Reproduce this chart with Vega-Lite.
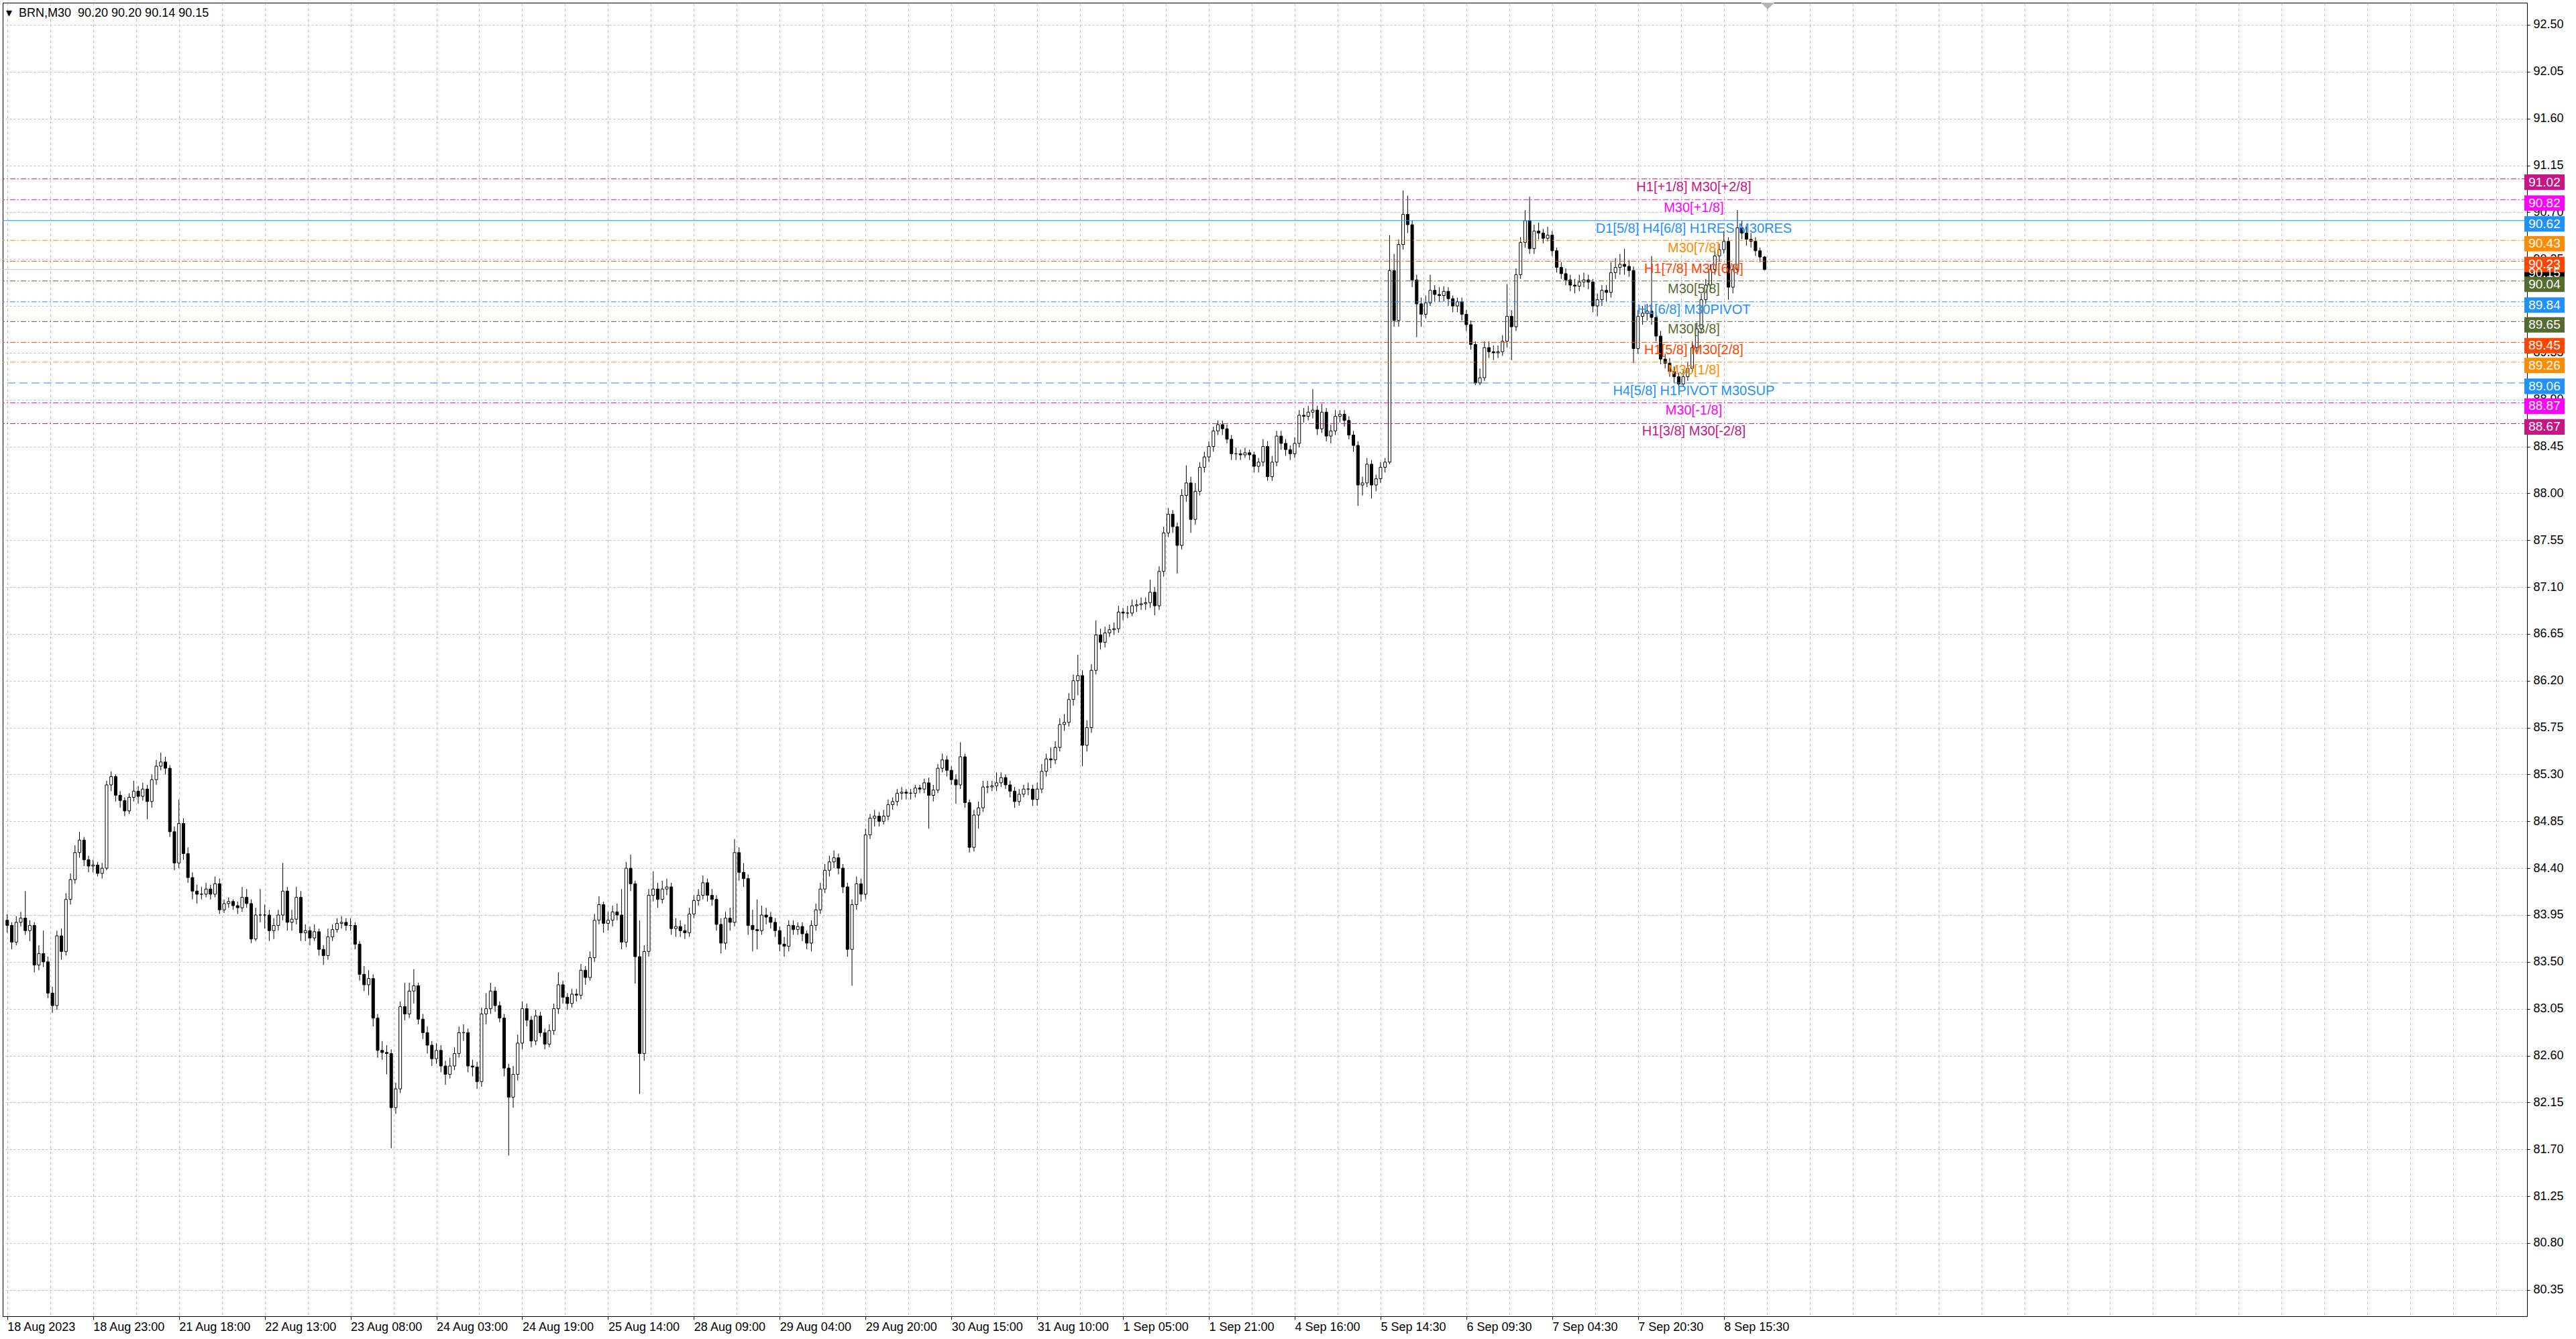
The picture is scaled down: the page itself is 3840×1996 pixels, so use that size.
{
  "$schema": "https://vega.github.io/schema/vega-lite/v6.json",
  "width": 3763,
  "height": 1958,
  "autosize": {"type": "none"},
  "padding": {"left": 4, "top": 4, "right": 73, "bottom": 34},
  "background": "#ffffff",
  "title": {
    "text": "\u25be\u00a0\u00a0BRN,M30\u00a0\u00a090.20 90.20 90.14 90.15",
    "anchor": "start",
    "frame": "group",
    "orient": "top",
    "offset": -15,
    "baseline": "middle",
    "dx": 5,
    "dy": 19,
    "font": "Liberation Sans",
    "fontSize": 18,
    "fontWeight": "normal",
    "color": "#000000"
  },
  "datasets": {
    "candles": [
      {"i":0,"o":83.90,"h":83.96,"l":83.78,"c":83.85},{"i":2,"o":83.85,"h":83.88,"l":83.62,"c":83.69},{"i":4,"o":83.69,"h":83.94,"l":83.66,"c":83.88},{"i":6,"o":83.88,"h":83.98,"l":83.84,"c":83.92},
      {"i":8,"o":83.92,"h":84.18,"l":83.76,"c":83.80},{"i":10,"o":83.80,"h":83.90,"l":83.70,"c":83.85},{"i":12,"o":83.85,"h":83.88,"l":83.40,"c":83.47},{"i":14,"o":83.47,"h":83.66,"l":83.42,"c":83.58},
      {"i":16,"o":83.58,"h":83.80,"l":83.45,"c":83.50},{"i":18,"o":83.50,"h":83.55,"l":83.15,"c":83.20},{"i":20,"o":83.20,"h":83.26,"l":83.01,"c":83.08},{"i":22,"o":83.08,"h":83.80,"l":83.04,"c":83.75},
      {"i":24,"o":83.75,"h":83.82,"l":83.52,"c":83.60},{"i":26,"o":83.60,"h":84.16,"l":83.56,"c":84.10},{"i":28,"o":84.10,"h":84.35,"l":84.05,"c":84.29},{"i":30,"o":84.29,"h":84.62,"l":84.25,"c":84.55},
      {"i":32,"o":84.55,"h":84.75,"l":84.50,"c":84.67},{"i":34,"o":84.67,"h":84.70,"l":84.42,"c":84.48},{"i":36,"o":84.48,"h":84.52,"l":84.36,"c":84.42},{"i":38,"o":84.42,"h":84.48,"l":84.36,"c":84.43},
      {"i":40,"o":84.43,"h":84.46,"l":84.32,"c":84.35},{"i":42,"o":84.35,"h":84.45,"l":84.30,"c":84.40},{"i":44,"o":84.40,"h":85.24,"l":84.38,"c":85.20},{"i":46,"o":85.20,"h":85.33,"l":85.14,"c":85.28},
      {"i":48,"o":85.28,"h":85.30,"l":85.04,"c":85.10},{"i":50,"o":85.10,"h":85.14,"l":84.98,"c":85.05},{"i":52,"o":85.05,"h":85.08,"l":84.90,"c":84.95},{"i":54,"o":84.95,"h":85.12,"l":84.92,"c":85.08},
      {"i":56,"o":85.08,"h":85.24,"l":85.04,"c":85.14},{"i":58,"o":85.14,"h":85.19,"l":85.02,"c":85.09},{"i":60,"o":85.09,"h":85.22,"l":85.05,"c":85.16},{"i":62,"o":85.16,"h":85.20,"l":84.87,"c":85.04},
      {"i":64,"o":85.04,"h":85.30,"l":84.98,"c":85.25},{"i":66,"o":85.25,"h":85.44,"l":85.20,"c":85.38},{"i":68,"o":85.38,"h":85.51,"l":85.34,"c":85.42},{"i":70,"o":85.42,"h":85.47,"l":85.30,"c":85.36},
      {"i":72,"o":85.36,"h":85.39,"l":84.70,"c":84.75},{"i":74,"o":84.75,"h":84.80,"l":84.38,"c":84.45},{"i":76,"o":84.45,"h":85.06,"l":84.40,"c":84.83},{"i":78,"o":84.83,"h":84.88,"l":84.48,"c":84.54},
      {"i":80,"o":84.54,"h":84.60,"l":84.26,"c":84.31},{"i":82,"o":84.31,"h":84.36,"l":84.10,"c":84.18},{"i":84,"o":84.18,"h":84.24,"l":84.06,"c":84.15},{"i":86,"o":84.15,"h":84.22,"l":84.10,"c":84.15},
      {"i":88,"o":84.15,"h":84.26,"l":84.12,"c":84.20},{"i":90,"o":84.20,"h":84.24,"l":84.10,"c":84.15},{"i":92,"o":84.15,"h":84.32,"l":84.12,"c":84.25},{"i":94,"o":84.25,"h":84.30,"l":83.96,"c":84.00},
      {"i":96,"o":84.00,"h":84.10,"l":83.97,"c":84.06},{"i":98,"o":84.06,"h":84.12,"l":84.02,"c":84.08},{"i":100,"o":84.08,"h":84.10,"l":84.00,"c":84.04},{"i":102,"o":84.04,"h":84.08,"l":83.96,"c":84.02},
      {"i":104,"o":84.02,"h":84.22,"l":83.98,"c":84.12},{"i":106,"o":84.12,"h":84.20,"l":84.02,"c":84.06},{"i":108,"o":84.06,"h":84.10,"l":83.68,"c":83.72},{"i":110,"o":83.72,"h":84.02,"l":83.70,"c":83.95},
      {"i":112,"o":83.95,"h":84.20,"l":83.88,"c":83.95},{"i":114,"o":83.95,"h":84.05,"l":83.82,"c":83.95},{"i":116,"o":83.95,"h":84.00,"l":83.70,"c":83.80},{"i":118,"o":83.80,"h":83.92,"l":83.72,"c":83.85},
      {"i":120,"o":83.85,"h":84.00,"l":83.80,"c":83.95},{"i":122,"o":83.95,"h":84.45,"l":83.90,"c":84.18},{"i":124,"o":84.18,"h":84.22,"l":83.80,"c":83.88},{"i":126,"o":83.88,"h":84.00,"l":83.80,"c":83.91},
      {"i":128,"o":83.91,"h":84.22,"l":83.86,"c":84.12},{"i":130,"o":84.12,"h":84.18,"l":83.70,"c":83.78},{"i":132,"o":83.78,"h":83.86,"l":83.70,"c":83.80},{"i":134,"o":83.80,"h":83.84,"l":83.66,"c":83.73},
      {"i":136,"o":83.73,"h":83.86,"l":83.70,"c":83.79},{"i":138,"o":83.79,"h":83.82,"l":83.56,"c":83.62},{"i":140,"o":83.62,"h":83.66,"l":83.47,"c":83.56},{"i":142,"o":83.56,"h":83.82,"l":83.52,"c":83.74},
      {"i":144,"o":83.74,"h":83.86,"l":83.70,"c":83.81},{"i":146,"o":83.81,"h":83.92,"l":83.78,"c":83.87},{"i":148,"o":83.87,"h":83.94,"l":83.82,"c":83.88},{"i":150,"o":83.88,"h":83.92,"l":83.80,"c":83.85},
      {"i":152,"o":83.85,"h":83.92,"l":83.80,"c":83.85},{"i":154,"o":83.85,"h":83.88,"l":83.62,"c":83.67},{"i":156,"o":83.67,"h":83.70,"l":83.32,"c":83.38},{"i":158,"o":83.38,"h":83.46,"l":83.22,"c":83.28},
      {"i":160,"o":83.28,"h":83.42,"l":83.18,"c":83.34},{"i":162,"o":83.34,"h":83.38,"l":82.88,"c":82.96},{"i":164,"o":82.96,"h":83.00,"l":82.58,"c":82.65},{"i":166,"o":82.65,"h":82.74,"l":82.56,"c":82.63},
      {"i":168,"o":82.63,"h":82.70,"l":82.42,"c":82.62},{"i":170,"o":82.62,"h":82.66,"l":81.71,"c":82.10},{"i":172,"o":82.10,"h":82.34,"l":82.04,"c":82.28},{"i":174,"o":82.28,"h":83.12,"l":82.24,"c":83.07},
      {"i":176,"o":83.07,"h":83.30,"l":82.94,"c":83.00},{"i":178,"o":83.00,"h":83.30,"l":82.96,"c":83.22},{"i":180,"o":83.22,"h":83.43,"l":83.10,"c":83.27},{"i":182,"o":83.27,"h":83.30,"l":82.90,"c":82.95},
      {"i":184,"o":82.95,"h":83.00,"l":82.76,"c":82.82},{"i":186,"o":82.82,"h":82.88,"l":82.62,"c":82.70},{"i":188,"o":82.70,"h":82.74,"l":82.50,"c":82.57},{"i":190,"o":82.57,"h":82.72,"l":82.52,"c":82.65},
      {"i":192,"o":82.65,"h":82.70,"l":82.44,"c":82.50},{"i":194,"o":82.50,"h":82.55,"l":82.32,"c":82.42},{"i":196,"o":82.42,"h":82.58,"l":82.38,"c":82.50},{"i":198,"o":82.50,"h":82.68,"l":82.46,"c":82.62},
      {"i":200,"o":82.62,"h":82.88,"l":82.58,"c":82.82},{"i":202,"o":82.82,"h":82.90,"l":82.74,"c":82.82},{"i":204,"o":82.82,"h":82.86,"l":82.44,"c":82.50},{"i":206,"o":82.50,"h":82.56,"l":82.40,"c":82.49},
      {"i":208,"o":82.49,"h":82.54,"l":82.28,"c":82.35},{"i":210,"o":82.35,"h":83.06,"l":82.30,"c":83.00},{"i":212,"o":83.00,"h":83.20,"l":82.90,"c":83.05},{"i":214,"o":83.05,"h":83.30,"l":83.00,"c":83.22},
      {"i":216,"o":83.22,"h":83.26,"l":83.02,"c":83.08},{"i":218,"o":83.08,"h":83.12,"l":82.92,"c":82.96},{"i":220,"o":82.96,"h":83.00,"l":82.40,"c":82.48},{"i":222,"o":82.48,"h":82.52,"l":81.64,"c":82.20},
      {"i":224,"o":82.20,"h":82.50,"l":82.10,"c":82.42},{"i":226,"o":82.42,"h":82.80,"l":82.36,"c":82.72},{"i":228,"o":82.72,"h":83.12,"l":82.66,"c":83.05},{"i":230,"o":83.05,"h":83.10,"l":82.88,"c":82.94},
      {"i":232,"o":82.94,"h":82.98,"l":82.68,"c":82.74},{"i":234,"o":82.74,"h":83.04,"l":82.70,"c":82.98},{"i":236,"o":82.98,"h":83.02,"l":82.78,"c":82.82},{"i":238,"o":82.82,"h":82.86,"l":82.66,"c":82.71},
      {"i":240,"o":82.71,"h":82.90,"l":82.68,"c":82.84},{"i":242,"o":82.84,"h":83.10,"l":82.80,"c":83.05},{"i":244,"o":83.05,"h":83.40,"l":83.00,"c":83.28},{"i":246,"o":83.28,"h":83.32,"l":83.10,"c":83.16},
      {"i":248,"o":83.16,"h":83.20,"l":83.04,"c":83.10},{"i":250,"o":83.10,"h":83.24,"l":83.06,"c":83.19},{"i":252,"o":83.19,"h":83.24,"l":83.12,"c":83.18},{"i":254,"o":83.18,"h":83.48,"l":83.14,"c":83.42},
      {"i":256,"o":83.42,"h":83.46,"l":83.28,"c":83.35},{"i":258,"o":83.35,"h":83.60,"l":83.32,"c":83.54},{"i":260,"o":83.54,"h":83.96,"l":83.50,"c":83.90},{"i":262,"o":83.90,"h":84.13,"l":83.86,"c":84.05},
      {"i":264,"o":84.05,"h":84.08,"l":83.78,"c":83.87},{"i":266,"o":83.87,"h":83.98,"l":83.80,"c":83.90},{"i":268,"o":83.90,"h":84.04,"l":83.84,"c":83.98},{"i":270,"o":83.98,"h":84.06,"l":83.90,"c":83.95},
      {"i":272,"o":83.95,"h":84.20,"l":83.62,"c":83.69},{"i":274,"o":83.69,"h":84.46,"l":83.64,"c":84.40},{"i":276,"o":84.40,"h":84.53,"l":84.18,"c":84.25},{"i":278,"o":84.25,"h":84.28,"l":83.29,"c":83.55},
      {"i":280,"o":83.55,"h":83.90,"l":82.23,"c":82.62},{"i":282,"o":82.62,"h":83.66,"l":82.55,"c":83.60},{"i":284,"o":83.60,"h":84.20,"l":83.55,"c":84.14},{"i":286,"o":84.14,"h":84.37,"l":84.08,"c":84.20},
      {"i":288,"o":84.20,"h":84.26,"l":84.02,"c":84.10},{"i":290,"o":84.10,"h":84.28,"l":84.06,"c":84.20},{"i":292,"o":84.20,"h":84.30,"l":84.14,"c":84.22},{"i":294,"o":84.22,"h":84.26,"l":83.76,"c":83.82},
      {"i":296,"o":83.82,"h":83.92,"l":83.74,"c":83.84},{"i":298,"o":83.84,"h":83.90,"l":83.74,"c":83.80},{"i":300,"o":83.80,"h":83.86,"l":83.72,"c":83.78},{"i":302,"o":83.78,"h":84.02,"l":83.74,"c":83.96},
      {"i":304,"o":83.96,"h":84.14,"l":83.92,"c":84.09},{"i":306,"o":84.09,"h":84.20,"l":84.04,"c":84.14},{"i":308,"o":84.14,"h":84.33,"l":84.10,"c":84.26},{"i":310,"o":84.26,"h":84.30,"l":84.08,"c":84.14},
      {"i":312,"o":84.14,"h":84.20,"l":84.04,"c":84.10},{"i":314,"o":84.10,"h":84.14,"l":83.80,"c":83.86},{"i":316,"o":83.86,"h":83.92,"l":83.58,"c":83.68},{"i":318,"o":83.68,"h":83.98,"l":83.62,"c":83.92},
      {"i":320,"o":83.92,"h":84.02,"l":83.80,"c":83.88},{"i":322,"o":83.88,"h":84.68,"l":83.84,"c":84.55},{"i":324,"o":84.55,"h":84.60,"l":84.28,"c":84.36},{"i":326,"o":84.36,"h":84.45,"l":84.22,"c":84.30},
      {"i":328,"o":84.30,"h":84.34,"l":83.76,"c":83.85},{"i":330,"o":83.85,"h":84.00,"l":83.60,"c":83.81},{"i":332,"o":83.81,"h":84.10,"l":83.62,"c":83.80},{"i":334,"o":83.80,"h":84.04,"l":83.76,"c":83.95},
      {"i":336,"o":83.95,"h":84.02,"l":83.86,"c":83.93},{"i":338,"o":83.93,"h":83.98,"l":83.82,"c":83.88},{"i":340,"o":83.88,"h":83.92,"l":83.74,"c":83.80},{"i":342,"o":83.80,"h":83.84,"l":83.60,"c":83.67},
      {"i":344,"o":83.67,"h":83.74,"l":83.55,"c":83.65},{"i":346,"o":83.65,"h":83.90,"l":83.60,"c":83.85},{"i":348,"o":83.85,"h":83.90,"l":83.76,"c":83.81},{"i":350,"o":83.81,"h":83.88,"l":83.76,"c":83.84},
      {"i":352,"o":83.84,"h":83.88,"l":83.70,"c":83.77},{"i":354,"o":83.77,"h":83.80,"l":83.62,"c":83.68},{"i":356,"o":83.68,"h":83.90,"l":83.60,"c":83.85},{"i":358,"o":83.85,"h":84.06,"l":83.80,"c":84.00},
      {"i":360,"o":84.00,"h":84.26,"l":83.96,"c":84.20},{"i":362,"o":84.20,"h":84.44,"l":84.16,"c":84.38},{"i":364,"o":84.38,"h":84.52,"l":84.32,"c":84.46},{"i":366,"o":84.46,"h":84.57,"l":84.40,"c":84.50},
      {"i":368,"o":84.50,"h":84.54,"l":84.34,"c":84.40},{"i":370,"o":84.40,"h":84.44,"l":84.16,"c":84.22},{"i":372,"o":84.22,"h":84.26,"l":83.55,"c":83.62},{"i":374,"o":83.62,"h":84.10,"l":83.27,"c":84.05},
      {"i":376,"o":84.05,"h":84.32,"l":84.00,"c":84.25},{"i":378,"o":84.25,"h":84.30,"l":84.08,"c":84.15},{"i":380,"o":84.15,"h":84.78,"l":84.10,"c":84.72},{"i":382,"o":84.72,"h":84.92,"l":84.68,"c":84.88},
      {"i":384,"o":84.88,"h":84.96,"l":84.80,"c":84.90},{"i":386,"o":84.90,"h":84.94,"l":84.80,"c":84.85},{"i":388,"o":84.85,"h":84.96,"l":84.82,"c":84.90},{"i":390,"o":84.90,"h":85.06,"l":84.86,"c":85.01},
      {"i":392,"o":85.01,"h":85.08,"l":84.96,"c":85.04},{"i":394,"o":85.04,"h":85.16,"l":85.00,"c":85.12},{"i":396,"o":85.12,"h":85.18,"l":85.06,"c":85.13},{"i":398,"o":85.13,"h":85.16,"l":85.06,"c":85.12},
      {"i":400,"o":85.12,"h":85.16,"l":85.06,"c":85.12},{"i":402,"o":85.12,"h":85.20,"l":85.08,"c":85.17},{"i":404,"o":85.17,"h":85.20,"l":85.12,"c":85.16},{"i":406,"o":85.16,"h":85.26,"l":85.12,"c":85.22},
      {"i":408,"o":85.22,"h":85.27,"l":84.78,"c":85.10},{"i":410,"o":85.10,"h":85.20,"l":85.04,"c":85.15},{"i":412,"o":85.15,"h":85.40,"l":85.12,"c":85.36},{"i":414,"o":85.36,"h":85.50,"l":85.32,"c":85.44},
      {"i":416,"o":85.44,"h":85.48,"l":85.28,"c":85.34},{"i":418,"o":85.34,"h":85.38,"l":85.20,"c":85.25},{"i":420,"o":85.25,"h":85.30,"l":85.02,"c":85.20},{"i":422,"o":85.20,"h":85.61,"l":85.16,"c":85.47},
      {"i":424,"o":85.47,"h":85.50,"l":84.98,"c":85.03},{"i":426,"o":85.03,"h":85.06,"l":84.55,"c":84.60},{"i":428,"o":84.60,"h":84.96,"l":84.56,"c":84.91},{"i":430,"o":84.91,"h":85.04,"l":84.78,"c":84.98},
      {"i":432,"o":84.98,"h":85.24,"l":84.94,"c":85.18},{"i":434,"o":85.18,"h":85.24,"l":85.12,"c":85.18},{"i":436,"o":85.18,"h":85.24,"l":85.14,"c":85.19},{"i":438,"o":85.19,"h":85.32,"l":85.14,"c":85.22},
      {"i":440,"o":85.22,"h":85.32,"l":85.18,"c":85.27},{"i":442,"o":85.27,"h":85.30,"l":85.16,"c":85.20},{"i":444,"o":85.20,"h":85.24,"l":85.08,"c":85.14},{"i":446,"o":85.14,"h":85.18,"l":84.98,"c":85.04},
      {"i":448,"o":85.04,"h":85.16,"l":85.00,"c":85.11},{"i":450,"o":85.11,"h":85.20,"l":85.08,"c":85.16},{"i":452,"o":85.16,"h":85.22,"l":85.10,"c":85.16},{"i":454,"o":85.16,"h":85.20,"l":85.00,"c":85.06},
      {"i":456,"o":85.06,"h":85.22,"l":85.00,"c":85.16},{"i":458,"o":85.16,"h":85.40,"l":85.12,"c":85.33},{"i":460,"o":85.33,"h":85.50,"l":85.28,"c":85.45},{"i":462,"o":85.45,"h":85.56,"l":85.36,"c":85.44},
      {"i":464,"o":85.44,"h":85.62,"l":85.40,"c":85.56},{"i":466,"o":85.56,"h":85.84,"l":85.52,"c":85.78},{"i":468,"o":85.78,"h":85.88,"l":85.72,"c":85.80},{"i":470,"o":85.80,"h":86.08,"l":85.76,"c":86.02},
      {"i":472,"o":86.02,"h":86.26,"l":85.96,"c":86.20},{"i":474,"o":86.20,"h":86.45,"l":86.06,"c":86.25},{"i":476,"o":86.25,"h":86.30,"l":85.38,"c":85.58},{"i":478,"o":85.58,"h":85.82,"l":85.52,"c":85.75},
      {"i":480,"o":85.75,"h":86.36,"l":85.70,"c":86.30},{"i":482,"o":86.30,"h":86.78,"l":86.26,"c":86.64},{"i":484,"o":86.64,"h":86.70,"l":86.50,"c":86.57},{"i":486,"o":86.57,"h":86.72,"l":86.52,"c":86.66},
      {"i":488,"o":86.66,"h":86.74,"l":86.62,"c":86.69},{"i":490,"o":86.69,"h":86.76,"l":86.64,"c":86.70},{"i":492,"o":86.70,"h":86.92,"l":86.66,"c":86.86},{"i":494,"o":86.86,"h":86.90,"l":86.78,"c":86.85},
      {"i":496,"o":86.85,"h":86.92,"l":86.80,"c":86.85},{"i":498,"o":86.85,"h":86.98,"l":86.82,"c":86.92},{"i":500,"o":86.92,"h":86.98,"l":86.86,"c":86.93},{"i":502,"o":86.93,"h":87.00,"l":86.88,"c":86.94},
      {"i":504,"o":86.94,"h":87.00,"l":86.88,"c":86.95},{"i":506,"o":86.95,"h":87.17,"l":86.90,"c":87.05},{"i":508,"o":87.05,"h":87.10,"l":86.83,"c":86.92},{"i":510,"o":86.92,"h":87.30,"l":86.88,"c":87.25},
      {"i":512,"o":87.25,"h":87.68,"l":87.20,"c":87.62},{"i":514,"o":87.62,"h":87.86,"l":87.58,"c":87.80},{"i":516,"o":87.80,"h":87.84,"l":87.62,"c":87.68},{"i":518,"o":87.68,"h":87.72,"l":87.23,"c":87.50},
      {"i":520,"o":87.50,"h":88.04,"l":87.46,"c":87.98},{"i":522,"o":87.98,"h":88.27,"l":87.92,"c":88.10},{"i":524,"o":88.10,"h":88.16,"l":87.62,"c":87.75},{"i":526,"o":87.75,"h":88.10,"l":87.70,"c":88.02},
      {"i":528,"o":88.02,"h":88.30,"l":87.98,"c":88.25},{"i":530,"o":88.25,"h":88.40,"l":88.20,"c":88.35},{"i":532,"o":88.35,"h":88.50,"l":88.30,"c":88.45},{"i":534,"o":88.45,"h":88.64,"l":88.40,"c":88.60},
      {"i":536,"o":88.60,"h":88.70,"l":88.56,"c":88.66},{"i":538,"o":88.66,"h":88.70,"l":88.56,"c":88.62},{"i":540,"o":88.62,"h":88.66,"l":88.48,"c":88.52},{"i":542,"o":88.52,"h":88.56,"l":88.32,"c":88.38},
      {"i":544,"o":88.38,"h":88.44,"l":88.32,"c":88.38},{"i":546,"o":88.38,"h":88.42,"l":88.32,"c":88.37},{"i":548,"o":88.37,"h":88.44,"l":88.34,"c":88.39},{"i":550,"o":88.39,"h":88.42,"l":88.32,"c":88.37},
      {"i":552,"o":88.37,"h":88.40,"l":88.20,"c":88.26},{"i":554,"o":88.26,"h":88.34,"l":88.20,"c":88.30},{"i":556,"o":88.30,"h":88.52,"l":88.26,"c":88.45},{"i":558,"o":88.45,"h":88.50,"l":88.12,"c":88.16},
      {"i":560,"o":88.16,"h":88.36,"l":88.12,"c":88.30},{"i":562,"o":88.30,"h":88.60,"l":88.26,"c":88.55},{"i":564,"o":88.55,"h":88.60,"l":88.42,"c":88.48},{"i":566,"o":88.48,"h":88.52,"l":88.36,"c":88.42},
      {"i":568,"o":88.42,"h":88.46,"l":88.32,"c":88.38},{"i":570,"o":88.38,"h":88.54,"l":88.34,"c":88.48},{"i":572,"o":88.48,"h":88.80,"l":88.44,"c":88.75},{"i":574,"o":88.75,"h":88.82,"l":88.68,"c":88.74},
      {"i":576,"o":88.74,"h":88.84,"l":88.70,"c":88.78},{"i":578,"o":88.78,"h":89.00,"l":88.72,"c":88.80},{"i":580,"o":88.80,"h":88.84,"l":88.56,"c":88.62},{"i":582,"o":88.62,"h":88.86,"l":88.58,"c":88.78},
      {"i":584,"o":88.78,"h":88.82,"l":88.50,"c":88.55},{"i":586,"o":88.55,"h":88.66,"l":88.48,"c":88.60},{"i":588,"o":88.60,"h":88.80,"l":88.56,"c":88.74},{"i":590,"o":88.74,"h":88.80,"l":88.68,"c":88.76},
      {"i":592,"o":88.76,"h":88.80,"l":88.64,"c":88.70},{"i":594,"o":88.70,"h":88.74,"l":88.52,"c":88.56},{"i":596,"o":88.56,"h":88.60,"l":88.40,"c":88.46},{"i":598,"o":88.46,"h":88.50,"l":87.88,"c":88.08},
      {"i":600,"o":88.08,"h":88.16,"l":87.98,"c":88.10},{"i":602,"o":88.10,"h":88.34,"l":88.06,"c":88.28},{"i":604,"o":88.28,"h":88.32,"l":87.95,"c":88.08},{"i":606,"o":88.08,"h":88.18,"l":88.02,"c":88.14},
      {"i":608,"o":88.14,"h":88.30,"l":88.10,"c":88.25},{"i":610,"o":88.25,"h":88.34,"l":88.20,"c":88.30},{"i":612,"o":88.30,"h":90.48,"l":88.28,"c":90.14},{"i":614,"o":90.14,"h":90.30,"l":89.60,"c":89.66},
      {"i":616,"o":89.66,"h":90.44,"l":89.60,"c":90.39},{"i":618,"o":90.39,"h":90.91,"l":90.34,"c":90.68},{"i":620,"o":90.68,"h":90.86,"l":90.50,"c":90.58},{"i":622,"o":90.58,"h":90.62,"l":89.98,"c":90.05},
      {"i":624,"o":90.05,"h":90.10,"l":89.50,"c":89.82},{"i":626,"o":89.82,"h":89.88,"l":89.60,"c":89.72},{"i":628,"o":89.72,"h":89.90,"l":89.68,"c":89.83},{"i":630,"o":89.83,"h":90.10,"l":89.80,"c":89.95},
      {"i":632,"o":89.95,"h":90.00,"l":89.84,"c":89.91},{"i":634,"o":89.91,"h":89.98,"l":89.84,"c":89.90},{"i":636,"o":89.90,"h":89.99,"l":89.84,"c":89.94},{"i":638,"o":89.94,"h":89.98,"l":89.80,"c":89.87},
      {"i":640,"o":89.87,"h":89.90,"l":89.74,"c":89.80},{"i":642,"o":89.80,"h":89.88,"l":89.74,"c":89.84},{"i":644,"o":89.84,"h":89.88,"l":89.66,"c":89.72},{"i":646,"o":89.72,"h":89.76,"l":89.56,"c":89.62},
      {"i":648,"o":89.62,"h":89.66,"l":89.38,"c":89.43},{"i":650,"o":89.43,"h":89.46,"l":89.04,"c":89.06},{"i":652,"o":89.06,"h":89.20,"l":89.04,"c":89.11},{"i":654,"o":89.11,"h":89.46,"l":89.08,"c":89.40},
      {"i":656,"o":89.40,"h":89.46,"l":89.30,"c":89.36},{"i":658,"o":89.36,"h":89.42,"l":89.28,"c":89.35},{"i":660,"o":89.35,"h":89.42,"l":89.30,"c":89.36},{"i":662,"o":89.36,"h":89.52,"l":89.32,"c":89.46},
      {"i":664,"o":89.46,"h":90.01,"l":89.40,"c":89.70},{"i":666,"o":89.70,"h":89.76,"l":89.28,"c":89.60},{"i":668,"o":89.60,"h":90.16,"l":89.56,"c":90.10},{"i":670,"o":90.10,"h":90.46,"l":90.06,"c":90.41},
      {"i":672,"o":90.41,"h":90.72,"l":90.36,"c":90.62},{"i":674,"o":90.62,"h":90.85,"l":90.30,"c":90.35},{"i":676,"o":90.35,"h":90.58,"l":90.30,"c":90.52},{"i":678,"o":90.52,"h":90.60,"l":90.44,"c":90.50},
      {"i":680,"o":90.50,"h":90.54,"l":90.40,"c":90.45},{"i":682,"o":90.45,"h":90.56,"l":90.42,"c":90.48},{"i":684,"o":90.48,"h":90.52,"l":90.28,"c":90.33},{"i":686,"o":90.33,"h":90.36,"l":90.12,"c":90.17},
      {"i":688,"o":90.17,"h":90.22,"l":90.06,"c":90.11},{"i":690,"o":90.11,"h":90.16,"l":90.00,"c":90.05},{"i":692,"o":90.05,"h":90.10,"l":89.94,"c":90.00},{"i":694,"o":90.00,"h":90.06,"l":89.92,"c":89.99},
      {"i":696,"o":89.99,"h":90.10,"l":89.94,"c":90.03},{"i":698,"o":90.03,"h":90.12,"l":89.98,"c":90.05},{"i":700,"o":90.05,"h":90.10,"l":89.96,"c":90.03},{"i":702,"o":90.03,"h":90.06,"l":89.74,"c":89.80},
      {"i":704,"o":89.80,"h":89.92,"l":89.70,"c":89.86},{"i":706,"o":89.86,"h":90.00,"l":89.80,"c":89.95},{"i":708,"o":89.95,"h":90.00,"l":89.84,"c":89.93},{"i":710,"o":89.93,"h":90.22,"l":89.88,"c":90.12},
      {"i":712,"o":90.12,"h":90.26,"l":90.06,"c":90.17},{"i":714,"o":90.17,"h":90.30,"l":90.10,"c":90.20},{"i":716,"o":90.20,"h":90.35,"l":90.10,"c":90.18},{"i":718,"o":90.18,"h":90.24,"l":90.08,"c":90.14},
      {"i":720,"o":90.14,"h":90.18,"l":89.25,"c":89.39},{"i":722,"o":89.39,"h":89.76,"l":89.34,"c":89.70},{"i":724,"o":89.70,"h":89.80,"l":89.62,"c":89.73},{"i":726,"o":89.73,"h":89.82,"l":89.66,"c":89.75},
      {"i":728,"o":89.75,"h":90.28,"l":89.62,"c":89.69},{"i":730,"o":89.69,"h":89.74,"l":89.46,"c":89.51},{"i":732,"o":89.51,"h":89.56,"l":89.24,"c":89.29},{"i":734,"o":89.29,"h":89.34,"l":89.20,"c":89.25},
      {"i":736,"o":89.25,"h":89.30,"l":89.12,"c":89.17},{"i":738,"o":89.17,"h":89.22,"l":89.06,"c":89.12},{"i":740,"o":89.12,"h":89.16,"l":89.00,"c":89.05},{"i":742,"o":89.05,"h":89.18,"l":89.02,"c":89.12},
      {"i":744,"o":89.12,"h":89.26,"l":89.08,"c":89.20},{"i":746,"o":89.20,"h":89.46,"l":89.16,"c":89.40},{"i":748,"o":89.40,"h":89.64,"l":89.36,"c":89.58},{"i":750,"o":89.58,"h":89.92,"l":89.54,"c":89.86},
      {"i":752,"o":89.86,"h":90.06,"l":89.82,"c":90.00},{"i":754,"o":90.00,"h":90.20,"l":89.96,"c":90.15},{"i":756,"o":90.15,"h":90.34,"l":90.10,"c":90.28},{"i":758,"o":90.28,"h":90.40,"l":90.22,"c":90.34},
      {"i":760,"o":90.34,"h":90.52,"l":90.30,"c":90.42},{"i":762,"o":90.42,"h":90.46,"l":89.86,"c":89.98},{"i":764,"o":89.98,"h":90.20,"l":89.92,"c":90.15},{"i":766,"o":90.15,"h":90.72,"l":90.10,"c":90.55},
      {"i":768,"o":90.55,"h":90.62,"l":90.44,"c":90.50},{"i":770,"o":90.50,"h":90.56,"l":90.38,"c":90.44},{"i":772,"o":90.44,"h":90.50,"l":90.36,"c":90.42},{"i":774,"o":90.42,"h":90.46,"l":90.28,"c":90.33},
      {"i":776,"o":90.33,"h":90.36,"l":90.22,"c":90.27},{"i":778,"o":90.27,"h":90.28,"l":90.14,"c":90.15}
    ],
    "levels": [
      {"p": 90.15, "t": "BID"},
      {"p": 91.02, "t": "H1[+1/8] M30[+2/8]"},
      {"p": 90.82, "t": "M30[+1/8]"},
      {"p": 90.62, "t": "D1[5/8] H4[6/8] H1RES M30RES"},
      {"p": 90.43, "t": "M30[7/8]"},
      {"p": 90.23, "t": "H1[7/8] M30[6/8]"},
      {"p": 90.04, "t": "M30[5/8]"},
      {"p": 89.84, "t": "H1[6/8] M30PIVOT"},
      {"p": 89.65, "t": "M30[3/8]"},
      {"p": 89.45, "t": "H1[5/8] M30[2/8]"},
      {"p": 89.26, "t": "M30[1/8]"},
      {"p": 89.06, "t": "H4[5/8] H1PIVOT M30SUP"},
      {"p": 88.87, "t": "M30[-1/8]"},
      {"p": 88.67, "t": "H1[3/8] M30[-2/8]"}
    ]
  },
  "layer": [
    {
      "data": {"values": [{"p": 90.15}]},
      "mark": {"type": "rule", "color": "#c0c0c0", "strokeWidth": 1},
      "encoding": {
        "y": {
          "field": "p",
          "type": "quantitative",
          "title": null,
          "scale": {"domain": [80.097, 92.7126], "zero": false, "nice": false},
          "axis": {
            "orient": "right",
            "values": [80.35, 80.8, 81.25, 81.7, 82.15, 82.6, 83.05, 83.5, 83.95, 84.4, 84.85, 85.3, 85.75, 86.2, 86.65, 87.1, 87.55, 88.0, 88.45, 88.9, 89.35, 89.8, 90.25, 90.7, 91.15, 91.6, 92.05, 92.5],
            "format": ".2f",
            "grid": true,
            "gridColor": "#c0c0c0",
            "gridDash": [3, 3],
            "gridWidth": 1,
            "domainColor": "#000000",
            "domainWidth": 1,
            "tickColor": "#000000",
            "tickSize": 4,
            "labelPadding": 5,
            "labelAlign": "left",
            "labelBaseline": "middle",
            "labelOverlap": false,
            "labelFlush": false,
            "labelBound": false,
            "labelFont": "Liberation Sans",
            "labelFontSize": 18,
            "labelColor": "#000000",
            "zindex": 0
          }
        }
      }
    },
    {
      "data": {"name": "candles"},
      "mark": {"type": "rule", "color": "#000000", "strokeWidth": 1},
      "encoding": {
        "x": {
          "field": "i",
          "type": "quantitative",
          "title": null,
          "scale": {"domain": [-0.53, 1114.1], "zero": false, "nice": false},
          "axis": {
            "values": [0, 19, 38, 57, 76, 95, 114, 133, 152, 171, 190, 209, 228, 247, 266, 285, 304, 323, 342, 361, 380, 399, 418, 437, 456, 475, 494, 513, 532, 551, 570, 589, 608, 627, 646, 665, 684, 703, 722, 741, 760, 779, 798, 817, 836, 855, 874, 893, 912, 931, 950, 969, 988, 1007, 1026, 1045, 1064, 1083, 1102],
            "labelExpr": "datum.value % 38 === 0 && datum.value <= 760 ? ['18 Aug 2023','18 Aug 23:00','21 Aug 18:00','22 Aug 13:00','23 Aug 08:00','24 Aug 03:00','24 Aug 19:00','25 Aug 14:00','28 Aug 09:00','29 Aug 04:00','29 Aug 20:00','30 Aug 15:00','31 Aug 10:00','1 Sep 05:00','1 Sep 21:00','4 Sep 16:00','5 Sep 14:30','6 Sep 09:30','7 Sep 04:30','7 Sep 20:30','8 Sep 15:30'][datum.value / 38] : ''",
            "grid": true,
            "gridColor": "#c0c0c0",
            "gridDash": [4, 4],
            "gridWidth": 1,
            "domainColor": "#000000",
            "domainWidth": 1,
            "tickColor": "#000000",
            "tickSize": 5,
            "tickOpacity": {"condition": {"test": "datum.value % 38 === 0 && datum.value <= 760", "value": 1}, "value": 0},
            "labelAlign": "left",
            "labelBaseline": "top",
            "labelPadding": 2,
            "labelOverlap": false,
            "labelFlush": false,
            "labelBound": false,
            "labelFont": "Liberation Sans",
            "labelFontSize": 18,
            "labelColor": "#000000",
            "zindex": 0
          }
        },
        "y": {"field": "l", "type": "quantitative", "title": null},
        "y2": {"field": "h"}
      }
    },
    {
      "data": {"name": "candles"},
      "mark": {"type": "bar", "orient": "vertical", "width": 4, "stroke": "#000000", "strokeWidth": 1},
      "encoding": {
        "x": {"field": "i", "type": "quantitative", "title": null},
        "y": {"field": "o", "type": "quantitative", "title": null},
        "y2": {"field": "c"},
        "fill": {"condition": {"test": "datum.c >= datum.o", "value": "#ffffff"}, "value": "#000000"}
      }
    },
    {
      "data": {"name": "levels"},
      "transform": [{"filter": "datum.t !== 'BID'"}],
      "mark": {"type": "rule", "strokeWidth": 1},
      "encoding": {
        "y": {"field": "p", "type": "quantitative", "title": null},
        "color": {
          "field": "t",
          "type": "nominal",
          "legend": null,
          "scale": {
            "domain": ["BID", "H1[+1/8] M30[+2/8]", "M30[+1/8]", "D1[5/8] H4[6/8] H1RES M30RES", "M30[7/8]", "H1[7/8] M30[6/8]", "M30[5/8]", "H1[6/8] M30PIVOT", "M30[3/8]", "H1[5/8] M30[2/8]", "M30[1/8]", "H4[5/8] H1PIVOT M30SUP", "M30[-1/8]", "H1[3/8] M30[-2/8]"],
            "range": ["#000000", "#c71585", "#ff00ff", "#1e90ff", "#ff8c00", "#ff4500", "#556b2f", "#1e90ff", "#556b2f", "#ff4500", "#ff8c00", "#1e90ff", "#ff00ff", "#c71585"]
          }
        },
        "strokeDash": {
          "field": "t",
          "type": "nominal",
          "legend": null,
          "scale": {
            "domain": ["H1[+1/8] M30[+2/8]", "M30[+1/8]", "D1[5/8] H4[6/8] H1RES M30RES", "M30[7/8]", "H1[7/8] M30[6/8]", "M30[5/8]", "H1[6/8] M30PIVOT", "M30[3/8]", "H1[5/8] M30[2/8]", "M30[1/8]", "H4[5/8] H1PIVOT M30SUP", "M30[-1/8]", "H1[3/8] M30[-2/8]"],
            "range": [[8, 3, 2, 3], [8, 3, 2, 3], [1, 0], [8, 3, 2, 3], [8, 3, 2, 3], [8, 3, 2, 3], [8, 3, 2, 3], [8, 3, 2, 3], [8, 3, 2, 3], [8, 3, 2, 3], [12, 6], [8, 3, 2, 3], [8, 3, 2, 3]]
          }
        }
      }
    },
    {
      "data": {"name": "levels"},
      "transform": [{"filter": "datum.t !== 'BID'"}],
      "mark": {"type": "text", "font": "Liberation Sans", "fontSize": 20, "align": "center", "baseline": "middle", "dy": 12},
      "encoding": {
        "x": {"datum": 746.7, "type": "quantitative"},
        "y": {"field": "p", "type": "quantitative", "title": null},
        "text": {"field": "t", "type": "nominal"},
        "color": {"field": "t", "type": "nominal", "legend": null}
      }
    },
    {
      "data": {"name": "levels"},
      "mark": {"type": "point", "shape": "M-1,-0.22H1V0.55H-1Z", "size": 3600, "filled": true, "opacity": 1, "strokeWidth": 0, "clip": false},
      "encoding": {
        "x": {"datum": 1123.3, "type": "quantitative"},
        "y": {"field": "p", "type": "quantitative", "title": null},
        "color": {"field": "t", "type": "nominal", "legend": null}
      }
    },
    {
      "data": {"name": "levels"},
      "mark": {"type": "text", "font": "Liberation Sans", "fontSize": 19, "align": "center", "baseline": "middle", "dy": 5, "color": "#ffffff", "clip": false},
      "encoding": {
        "x": {"datum": 1123.3, "type": "quantitative"},
        "y": {"field": "p", "type": "quantitative", "title": null},
        "text": {"field": "p", "type": "quantitative", "format": ".2f"}
      }
    },
    {
      "data": {"values": [{"shift": 779.4, "top": 92.6804}]},
      "mark": {"type": "point", "shape": "M-1,-0.5L1,-0.5L0,0.5Z", "size": 400, "filled": true, "opacity": 1, "strokeWidth": 0, "color": "#b4b4b4"},
      "encoding": {
        "x": {"field": "shift", "type": "quantitative", "title": null},
        "y": {"field": "top", "type": "quantitative", "title": null}
      }
    }
  ],
  "config": {
    "view": {"stroke": "#000000", "strokeWidth": 1}
  }
}
